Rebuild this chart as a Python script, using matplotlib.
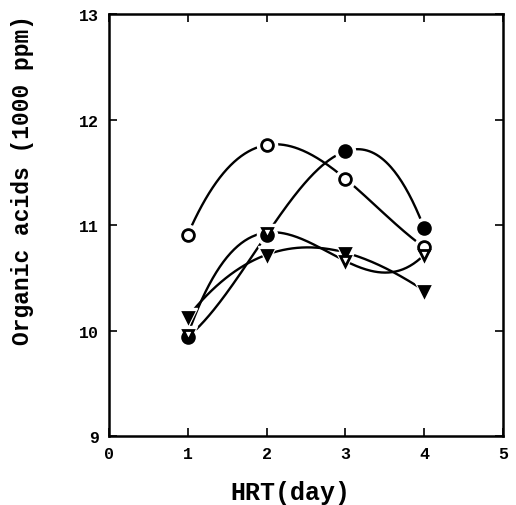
import numpy as np
import matplotlib.pyplot as plt

plt.rcParams['font.family'] = ['Liberation Mono', 'DejaVu Sans Mono']
plt.rcParams['font.weight'] = 'bold'

hrt = [1, 2, 3, 4]
open_circle = [10.91, 11.76, 11.44, 10.79]
filled_circle = [9.94, 10.91, 11.70, 10.97]
filled_tri = [10.13, 10.72, 10.74, 10.38]
open_tri = [9.96, 10.93, 10.66, 10.72]

series = [
    (open_circle, 'o', 'white', 8.5),
    (filled_circle, 'o', 'black', 8.5),
    (filled_tri, 'v', 'black', 6.5),
    (open_tri, 'v', 'white', 6.5),
]

fig = plt.figure(figsize=(5.16, 5.06), dpi=100)
ax = fig.add_axes([0.211, 0.136, 0.764, 0.834])

# smooth curve through the 4 points of each series
xs = np.linspace(1, 4, 200)
for vals, mk, fc, ms in series:
    coef = np.polyfit(hrt, vals, 3)
    ax.plot(xs, np.polyval(coef, xs), color='black', lw=1.7, zorder=1)
for vals, mk, fc, ms in series:
    ax.plot(hrt, vals, mk, ms=ms + 6, color='white', zorder=2)
for vals, mk, fc, ms in series:
    ax.plot(hrt, vals, mk, ms=ms, mfc=fc, mec='black', mew=2, zorder=3)

ax.set_xlim(0, 5)
ax.set_ylim(9, 13)
ax.set_xticks(range(0, 6))
ax.set_yticks(range(9, 14))
ax.tick_params(direction='in', length=6, width=1.2, top=True, right=True,
               labelsize=12, pad=7)
for s in ax.spines.values():
    s.set_linewidth(1.8)
ax.set_xlabel('HRT(day)', fontsize=18, fontweight='bold')
ax.set_ylabel('Organic acids (1000 ppm)', fontsize=16.5, fontweight='bold')
ax.xaxis.set_label_coords(0.46, -0.105)
ax.yaxis.set_label_coords(-0.19, 0.61)

fig.savefig('out.png', dpi=100)
